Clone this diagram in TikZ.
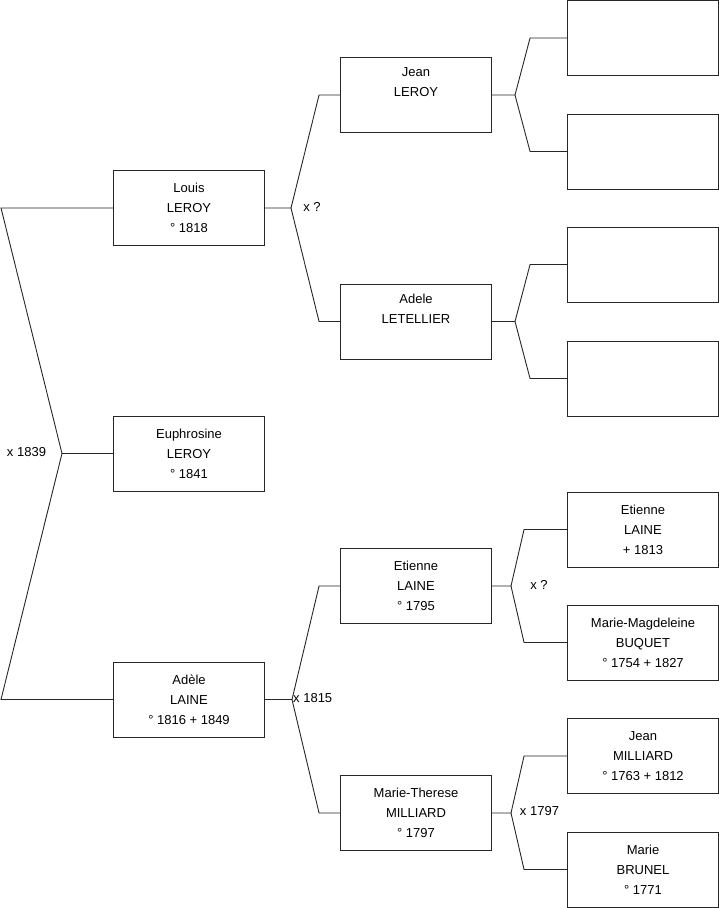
\documentclass[tikz,border=0pt]{standalone}
\usepackage{fontspec}
\setmainfont{Liberation Sans}
\begin{document}
\begin{tikzpicture}[x=1pt,y=-1pt,
  person/.style={draw=black!85, line width=0.9pt, fill=white, minimum width=151pt, minimum height=75pt,
    inner sep=0pt, align=center, font=\fontsize{13}{20}\selectfont},
  link/.style={draw=black!85, line width=0.9pt},
  lbl/.style={font=\fontsize{13}{15}\selectfont, inner sep=0pt}]
\useasboundingbox (0,0) rectangle (719,908);
% level 1
\node[person] (louis) at (189,208) {Louis\\LEROY\\° 1818};
\node[person] (euph) at (189,453.5) {Euphrosine\\LEROY\\° 1841};
\node[person] (adele) at (189,699.5) {Adèle\\LAINE\\° 1816 + 1849};
% level 2
\node[person] (jean) at (416,95) {Jean\\LEROY\\\strut};
\node[person] (adelet) at (416,321.5) {Adele\\LETELLIER\\\strut};
\node[person] (etienne) at (416,586) {Etienne\\LAINE\\° 1795};
\node[person] (mt) at (416,813) {Marie-Therese\\MILLIARD\\° 1797};
% level 3
\node[person] (r1) at (643,38) {};
\node[person] (r2) at (643,151.5) {};
\node[person] (r3) at (643,264.5) {};
\node[person] (r4) at (643,378.5) {};
\node[person] (r5) at (643,529.5) {Etienne\\LAINE\\+ 1813};
\node[person] (r6) at (643,642.5) {Marie-Magdeleine\\BUQUET\\° 1754 + 1827};
\node[person] (r7) at (643,756) {Jean\\MILLIARD\\° 1763 + 1812};
\node[person] (r8) at (643,869.5) {Marie\\BRUNEL\\° 1771};
% junctions
\coordinate (la) at (1,208);
\coordinate (lb) at (62,453.5);
\coordinate (lc) at (1,699.5);
\coordinate (j1) at (291,208);
\coordinate (j2) at (292,699.5);
\coordinate (j3) at (515,95);
\coordinate (j4) at (515,321.5);
\coordinate (j5) at (511,586);
\coordinate (j6) at (511,813);
% connectors
\draw[link] (louis.west) -- (la) -- (lb) -- (lc) -- (adele.west);
\draw[link] (lb) -- (euph.west);
\draw[link] (louis.east) -- (j1) -- ([xshift=-21pt]jean.west) -- (jean.west);
\draw[link] (j1) -- ([xshift=-21pt]adelet.west) -- (adelet.west);
\draw[link] (adele.east) -- (j2) -- ([xshift=-21pt]etienne.west) -- (etienne.west);
\draw[link] (j2) -- ([xshift=-21pt]mt.west) -- (mt.west);
\draw[link] (jean.east) -- (j3) -- ([xshift=-37pt]r1.west) -- (r1.west);
\draw[link] (j3) -- ([xshift=-37pt]r2.west) -- (r2.west);
\draw[link] (adelet.east) -- (j4) -- ([xshift=-37pt]r3.west) -- (r3.west);
\draw[link] (j4) -- ([xshift=-37pt]r4.west) -- (r4.west);
\draw[link] (etienne.east) -- (j5) -- ([xshift=-43pt]r5.west) -- (r5.west);
\draw[link] (j5) -- ([xshift=-43pt]r6.west) -- (r6.west);
\draw[link] (mt.east) -- (j6) -- ([xshift=-43pt]r7.west) -- (r7.west);
\draw[link] (j6) -- ([xshift=-43pt]r8.west) -- (r8.west);
% marriage labels
\node[lbl] (m1) at (26.5,452) {x 1839};
\node[lbl] (m2) at (312,207) {x ?};
\node[lbl, anchor=west] (m3) at (293,698) {x 1815};
\node[lbl] (m4) at (539,585) {x ?};
\node[lbl] (m5) at (539.5,811) {x 1797};
\end{tikzpicture}
\end{document}
